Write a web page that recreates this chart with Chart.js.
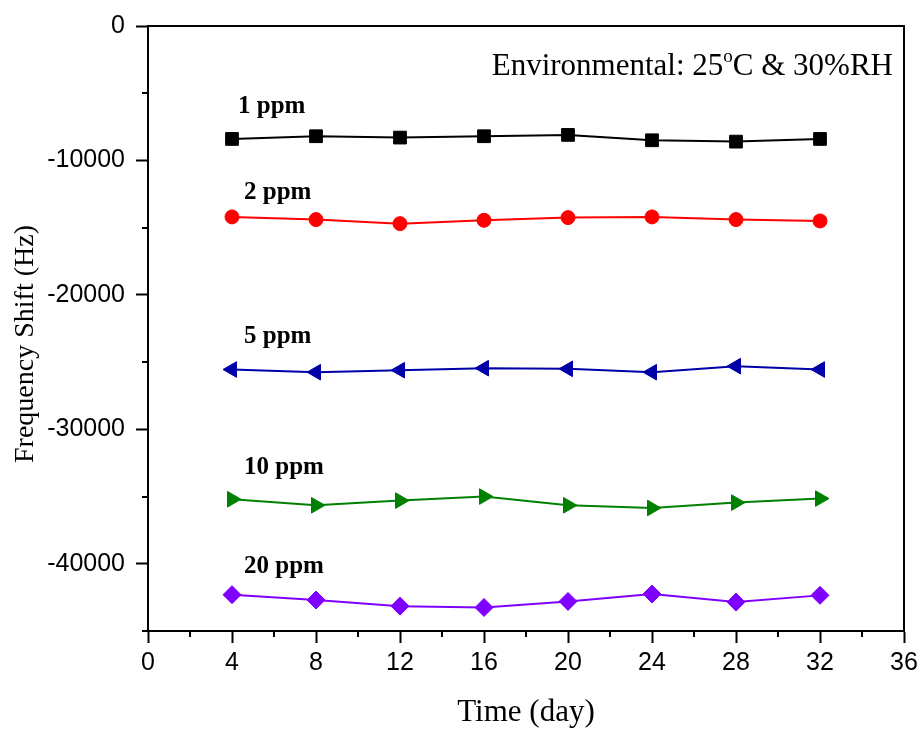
<!DOCTYPE html>
<html>
<head>
<meta charset="utf-8">
<script src="https://cdn.jsdelivr.net/npm/chart.js@4/dist/chart.umd.min.js"></script>
<style>
  html, body { margin: 0; padding: 0; background: #fff; }
  #wrap { width: 923px; height: 731px; }
</style>
</head>
<body>
<div id="wrap"><canvas id="shiftChart" width="923" height="731"></canvas></div>
<script>
// storage days and measured frequency shift (Hz) per concentration
var days = [4, 8, 12, 16, 20, 24, 28, 32];
var seriesNames = ['1 ppm', '2 ppm', '5 ppm', '10 ppm', '20 ppm'];
var shift1ppm = [-8400, -8200, -8300, -8200, -8100, -8500, -8600, -8400];
var shift2ppm = [-14200, -14400, -14700, -14450, -14250, -14200, -14400, -14500];
var shift5ppm = [-25550, -25750, -25600, -25450, -25500, -25750, -25300, -25550];
var shift10ppm = [-35200, -35650, -35300, -35000, -35650, -35850, -35450, -35150];
var shift20ppm = [-42300, -42700, -43150, -43250, -42800, -42250, -42850, -42350];
var yMajorTicks = [-40000, -30000, -20000, -10000, 0];

var allShifts = [shift1ppm, shift2ppm, shift5ppm, shift10ppm, shift20ppm];
var colors = ['#000000', '#ff0000', '#0000a8', '#008000', '#8000ff'];
var markers = [
  { style: 'rect', radius: 9, rotation: 0 },
  { style: 'circle', radius: 7, rotation: 0 },
  { style: 'triangle', radius: 9, rotation: -90 },
  { style: 'triangle', radius: 9, rotation: 90 },
  { style: 'rectRot', radius: 9, rotation: 0 }
];
// where each name sits relative to the first point of its line
var nameShiftX = [6, 12, 12, 12, 12];
var nameShiftY = [-32, -24, -33, -32, -28];

function toPoints(vals) {
  return days.map(function(d, i) { return { x: d, y: vals[i] }; });
}

var datasets = allShifts.map(function(vals, i) {
  return {
    label: seriesNames[i],
    data: toPoints(vals),
    borderColor: colors[i],
    backgroundColor: colors[i],
    borderWidth: 2,
    pointStyle: markers[i].style,
    pointRadius: markers[i].radius,
    pointRotation: markers[i].rotation,
    pointBorderWidth: 1,
    pointBorderColor: colors[i],
    pointBackgroundColor: colors[i],
    tension: 0
  };
});

// frame, minor ticks, y title, series names and condition note
var decorations = {
  id: 'decorations',
  afterDraw: function(chart) {
    var ctx = chart.ctx;
    var area = chart.chartArea;
    var xs = chart.scales.x;
    var ys = chart.scales.y;
    ctx.save();
    ctx.strokeStyle = '#000';
    ctx.lineWidth = 2;
    ctx.beginPath();
    ctx.moveTo(area.left, area.top);
    ctx.lineTo(area.right, area.top);
    ctx.lineTo(area.right, area.bottom);
    ctx.stroke();

    // minor ticks
    ctx.beginPath();
    for (var v = 2; v < 36; v += 4) {
      var px = Math.round(xs.getPixelForValue(v));
      ctx.moveTo(px, area.bottom);
      ctx.lineTo(px, area.bottom + 6);
    }
    for (var w = -45000; w < 0; w += 10000) {
      var py = Math.round(ys.getPixelForValue(w));
      ctx.moveTo(area.left, py);
      ctx.lineTo(area.left - 6, py);
    }
    ctx.stroke();

    ctx.fillStyle = '#000';

    // y axis title
    ctx.save();
    ctx.translate(26, 344);
    ctx.rotate(-Math.PI / 2);
    ctx.font = '28px "Liberation Serif"';
    ctx.textAlign = 'center';
    ctx.textBaseline = 'middle';
    ctx.fillText('Frequency Shift (Hz)', 0, 0);
    ctx.restore();

    // series names above first point
    ctx.font = 'bold 25px "Liberation Serif"';
    ctx.textAlign = 'left';
    ctx.textBaseline = 'middle';
    seriesNames.forEach(function(name, i) {
      var x0 = xs.getPixelForValue(days[0]) + nameShiftX[i];
      var y0 = ys.getPixelForValue(allShifts[i][0]) + nameShiftY[i];
      ctx.fillText(name, x0, y0);
    });

    // condition note, top right
    var noteY = area.top + 41;
    var right = area.right - 11;
    ctx.font = '31px "Liberation Serif"';
    var tail = 'C & 30%RH';
    var head = 'Environmental: 25';
    var tailW = ctx.measureText(tail).width;
    var headW = ctx.measureText(head).width;
    ctx.font = '19px "Liberation Serif"';
    var supW = ctx.measureText('o').width;
    var start = right - tailW - supW - headW;
    ctx.fillText('o', start + headW, noteY - 10);
    ctx.font = '31px "Liberation Serif"';
    ctx.fillText(head, start, noteY);
    ctx.fillText(tail, start + headW + supW, noteY);
    ctx.restore();
  }
};

var chart = new Chart(document.getElementById('shiftChart').getContext('2d'), {
  type: 'line',
  data: { datasets: datasets },
  plugins: [decorations],
  options: {
    responsive: false,
    animation: false,
    layout: { padding: { top: 21, right: 19, left: 0, bottom: 0 } },
    plugins: {
      legend: { display: false },
      tooltip: { enabled: false }
    },
    scales: {
      x: {
        type: 'linear',
        min: 0,
        max: 36,
        ticks: {
          stepSize: 4,
          color: '#000',
          padding: 5,
          maxRotation: 0,
          font: { family: '"Liberation Sans"', size: 25 }
        },
        grid: { drawOnChartArea: false, tickLength: 12, tickWidth: 2, tickColor: '#000' },
        border: { display: true, color: '#000', width: 2 },
        title: {
          display: true,
          text: 'Time (day)',
          color: '#000',
          padding: { top: 0, bottom: 0 },
          font: { family: '"Liberation Serif"', size: 31 }
        },
        afterFit: function(scale) { scale.height = 100; }
      },
      y: {
        type: 'linear',
        min: -45000,
        max: 0,
        afterBuildTicks: function(scale) {
          scale.ticks = yMajorTicks.map(function(v) { return { value: v }; });
        },
        ticks: {
          color: '#000',
          padding: 11,
          font: { family: '"Liberation Sans"', size: 25 },
          callback: function(value) { return String(value); }
        },
        grid: { drawOnChartArea: false, tickLength: 12, tickWidth: 2, tickColor: '#000' },
        border: { display: true, color: '#000', width: 2 },
        afterFit: function(scale) { scale.width = 148; }
      }
    }
  }
});
</script>
</body>
</html>
